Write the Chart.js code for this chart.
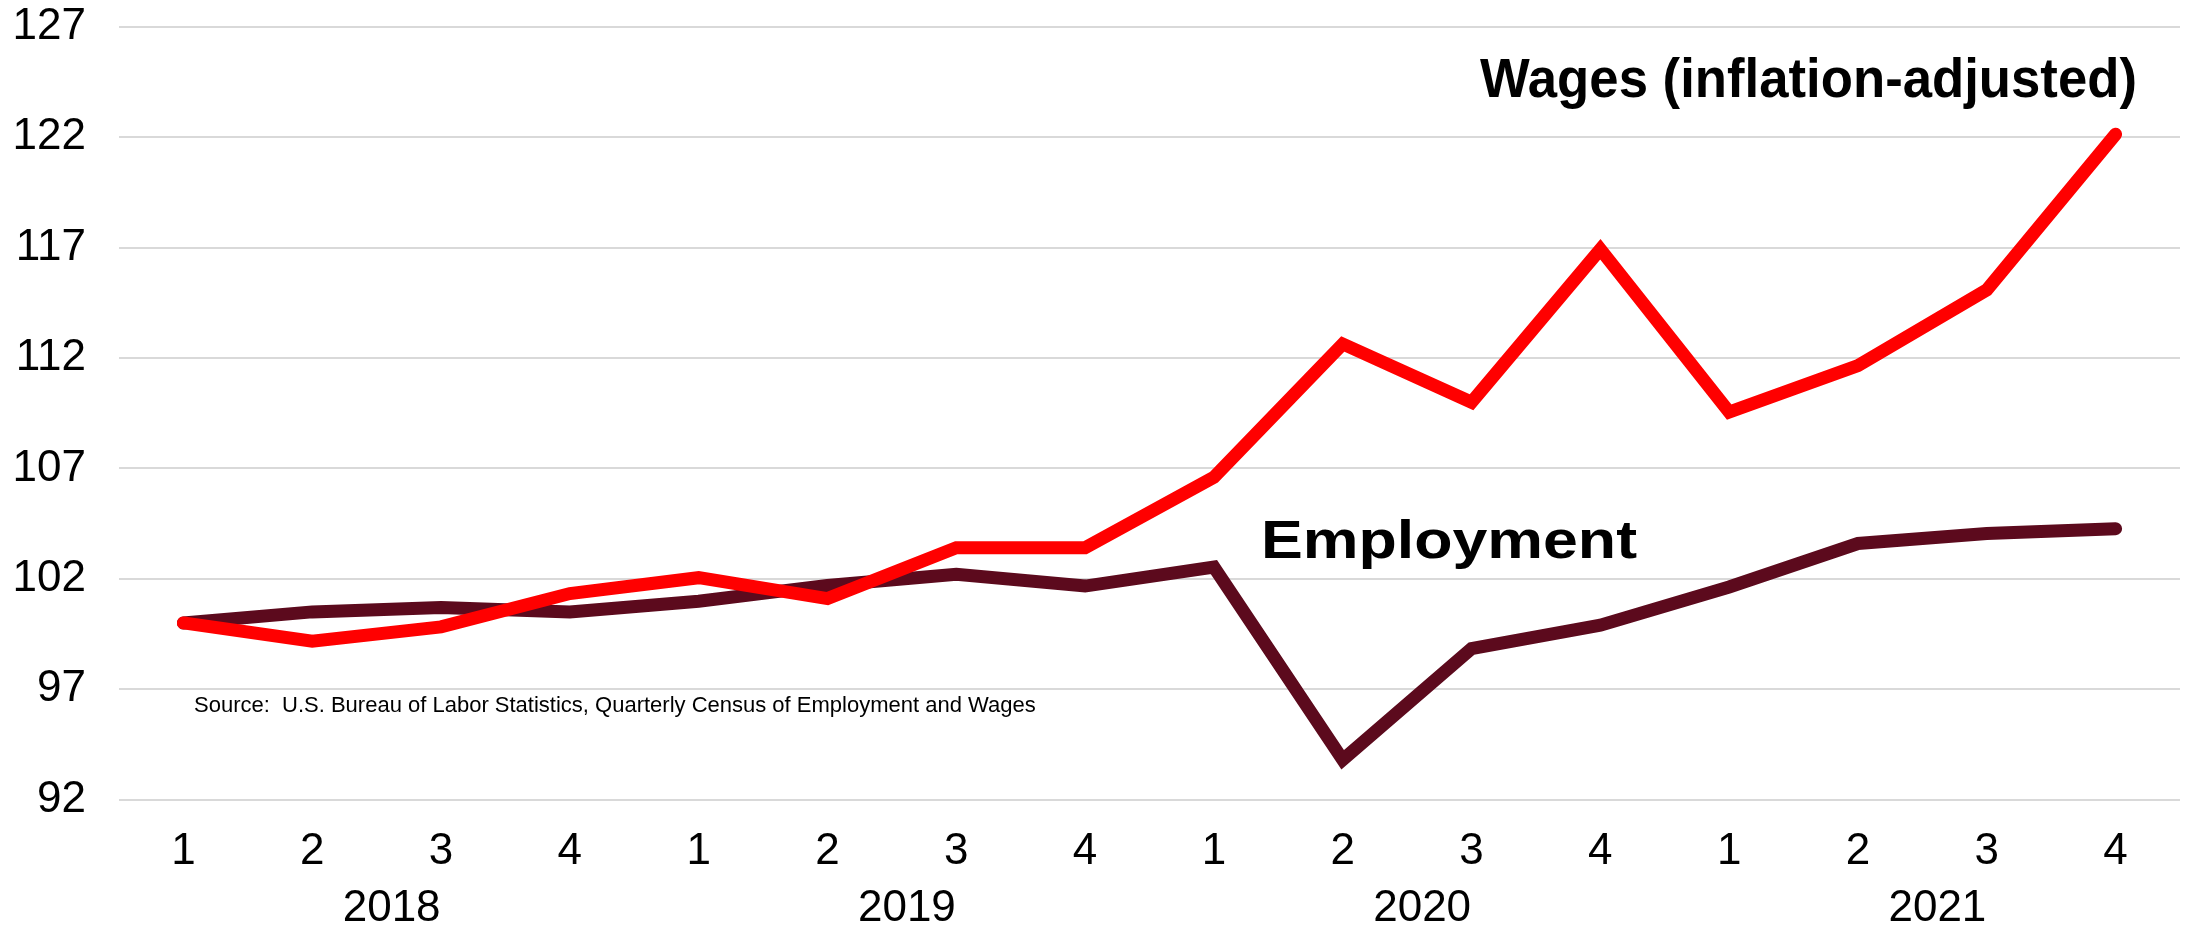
<!DOCTYPE html>
<html>
<head>
<meta charset="utf-8">
<script src="https://cdn.jsdelivr.net/npm/chart.js@4"></script>
<style>
  html, body { margin: 0; padding: 0; background: #fff; }
  #wrap { width: 2190px; height: 927px; position: relative; }
</style>
</head>
<body>
<div id="wrap"><canvas id="chart"></canvas></div>
<script>
// quarterly index, 2018 Q1 = 100
const quarters = ["1", "2", "3", "4", "1", "2", "3", "4", "1", "2", "3", "4", "1", "2", "3", "4"];
const years = ["2018", "2019", "2020", "2021"];
const wages = [100, 99.17, 99.82, 101.33, 102.05, 101.1, 103.41, 103.41, 106.6, 112.64, 110.0, 116.93, 109.55, 111.66, 115.09, 122.14];
const employment = [100, 100.5, 100.7, 100.5, 100.98, 101.7, 102.2, 101.67, 102.53, 93.8, 98.84, 99.9, 101.63, 103.6, 104.05, 104.27];
const yMin = 92;
const yMax = 127;
const yStep = 5;

const FONT = '"Liberation Sans", Arial, sans-serif';

function drawStretched(ctx, text, x, y, width, font) {
  ctx.font = font;
  ctx.textAlign = "left";
  ctx.textBaseline = "alphabetic";
  const w = ctx.measureText(text).width;
  ctx.save();
  ctx.translate(x, y);
  ctx.scale(width / w, 1);
  ctx.fillText(text, 0, 0);
  ctx.restore();
}

const extraText = {
  id: "extraText",
  afterDraw(chart) {
    const ctx = chart.ctx;
    const xs = chart.scales.x;
    const ys = chart.scales.y;
    ctx.save();
    ctx.fillStyle = "#000";

    // y tick labels, right aligned against the plot
    ctx.font = "44px " + FONT;
    ctx.textAlign = "right";
    ctx.textBaseline = "middle";
    ys.ticks.forEach((t) => {
      ctx.fillText(String(t.value), ys.right - 33, ys.getPixelForValue(t.value));
    });

    // year labels under the quarters
    ctx.textAlign = "center";
    years.forEach((yr, i) => {
      const cx = (xs.getPixelForValue(i * 4 + 1) + xs.getPixelForValue(i * 4 + 2)) / 2 + 15;
      ctx.fillText(yr, cx, 909);
    });

    // series labels
    drawStretched(ctx, "Wages (inflation-adjusted)", 1480, 97, 657, "bold 55px " + FONT);
    drawStretched(ctx, "Employment", 1261, 558, 376, "bold 53px " + FONT);

    // source note
    ctx.font = "22px " + FONT;
    ctx.textAlign = "left";
    ctx.textBaseline = "alphabetic";
    ctx.fillText("Source:  U.S. Bureau of Labor Statistics, Quarterly Census of Employment and Wages", 194, 712);
    ctx.restore();
  }
};

const data = {
  labels: quarters,
  datasets: [
    {
      label: "Wages (inflation-adjusted)",
      data: wages,
      borderColor: "#FF0000",
      borderWidth: 13,
      borderCapStyle: "round",
      borderJoinStyle: "miter",
      pointRadius: 0,
      tension: 0,
      fill: false
    },
    {
      label: "Employment",
      data: employment,
      borderColor: "#5C0A1D",
      borderWidth: 13,
      borderCapStyle: "round",
      borderJoinStyle: "miter",
      pointRadius: 0,
      tension: 0,
      fill: false
    }
  ]
};

const config = {
  type: "line",
  data: data,
  plugins: [extraText],
  options: {
    responsive: true,
    maintainAspectRatio: false,
    animation: false,
    layout: { padding: { top: 27, right: 10, left: 0, bottom: 0 } },
    plugins: {
      legend: { display: false },
      tooltip: { enabled: false }
    },
    scales: {
      x: {
        offset: true,
        grid: { display: false, drawTicks: false },
        border: { display: false },
        ticks: {
          color: "#000",
          font: { family: FONT, size: 44 },
          padding: 26,
          maxRotation: 0,
          autoSkip: false
        },
        afterFit(scale) { scale.height = 127.5; }
      },
      y: {
        min: yMin,
        max: yMax,
        grid: { color: "#d9d9d9", lineWidth: 2, drawTicks: false },
        border: { display: false },
        ticks: { stepSize: yStep, display: false },
        afterFit(scale) {
          scale.width = 119;
          scale.paddingTop = 0;
          scale.paddingBottom = 0;
        }
      }
    }
  }
};

new Chart(document.getElementById("chart"), config);
</script>
</body>
</html>
